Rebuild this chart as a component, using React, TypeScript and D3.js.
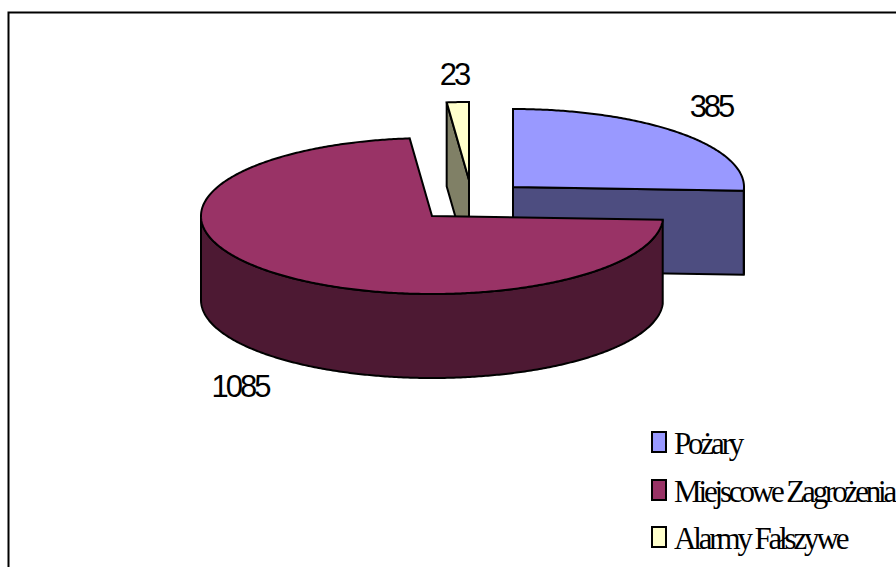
import React from "react";
import * as d3 from "d3";

const categories = ["Pożary", "Miejscowe Zagrożenia", "Alarmy Fałszywe"];
const values = [385, 1085, 23];
const topColors = ["#9999ff", "#993366", "#ffffcc"];
const sideColors = ["#4d4d80", "#4d1933", "#808066"];
const sliceCenters = [
  [513, 187],
  [432, 216],
  [469, 180],
];
const labelPositions = [
  [711, 117],
  [240, 397],
  [454, 85],
];
const legendRows = [442, 490, 537];

const W = 896;
const H = 567;
const RX = 231;
const RY = 78;
const DEPTH = 84;

const arcs = d3.pie<number>().sort(null).startAngle(0).endAngle(2 * Math.PI)(values);
const line = d3.line();

function pt(c: number[], a: number, dy = 0): [number, number] {
  return [c[0] + RX * Math.sin(a), c[1] - RY * Math.cos(a) + dy];
}
function arcPts(c: number[], a0: number, a1: number, dy = 0) {
  const n = Math.max(2, Math.ceil(Math.abs(a1 - a0) / 0.01));
  return d3.range(n + 1).map((i) => pt(c, a0 + ((a1 - a0) * i) / n, dy));
}

function Slice({ i }: { i: number }) {
  const c = sliceCenters[i];
  const { startAngle: a0, endAngle: a1 } = arcs[i];
  const apex: [number, number] = [c[0], c[1]];
  const low: [number, number] = [c[0], c[1] + DEPTH];
  const top = line([apex, ...arcPts(c, a0, a1)])! + "Z";
  const faces: string[] = [];
  const w0 = Math.max(a0, Math.PI / 2);
  const w1 = Math.min(a1, (3 * Math.PI) / 2);
  if (w1 > w0) {
    faces.push(line([...arcPts(c, w0, w1), ...arcPts(c, w1, w0, DEPTH)])! + "Z");
  }
  if (a0 < Math.PI / 2 && a1 < Math.PI) {
    const e = pt(c, a1);
    faces.push(line([apex, e, [e[0], e[1] + DEPTH], low])! + "Z");
  }
  if (a1 > (3 * Math.PI) / 2 && a0 > Math.PI) {
    const s = pt(c, a0);
    faces.push(line([apex, s, [s[0], s[1] + DEPTH], low])! + "Z");
  }
  return (
    <g stroke="#000" strokeWidth={2} strokeLinejoin="miter">
      {faces.map((d, k) => (
        <path key={k} d={d} fill={sideColors[i]} />
      ))}
      <path d={top} fill={topColors[i]} />
    </g>
  );
}

export default function App() {
  return (
    <svg
      width={W}
      height={H}
      style={{ position: "absolute", left: 0, top: 0, background: "#fff" }}
    >
      <rect x={8.5} y={12.5} width={W + 20} height={H + 20} fill="#fff" stroke="#000" strokeWidth={2} />
      {[0, 2, 1].map((i) => (
        <Slice key={i} i={i} />
      ))}
      {values.map((v, i) => (
        <text
          key={i}
          x={labelPositions[i][0]}
          y={labelPositions[i][1]}
          textAnchor="middle"
          fontFamily="'Liberation Sans', Arial, sans-serif"
          fontSize={31}
          letterSpacing={-3}
          fill="#000"
        >
          {v}
        </text>
      ))}
      {categories.map((c, i) => (
        <g key={c}>
          <rect
            x={652}
            y={legendRows[i] - 10}
            width={14}
            height={20}
            fill={topColors[i]}
            stroke="#000"
            strokeWidth={2}
          />
          <text
            x={674}
            y={legendRows[i] + 12}
            fontFamily="'Liberation Serif', 'Times New Roman', serif"
            fontSize={31}
            letterSpacing={-3.15}
            fill="#000"
          >
            {c}
          </text>
        </g>
      ))}
    </svg>
  );
}
